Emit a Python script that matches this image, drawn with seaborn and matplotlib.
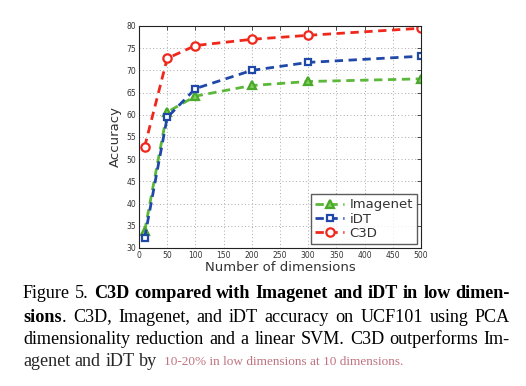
import matplotlib
matplotlib.use("Agg")
import matplotlib.pyplot as plt
import seaborn as sns
import pandas as pd

dims = [10, 50, 100, 200, 300, 500]
imagenet = [33.8, 60.6, 64.2, 66.6, 67.5, 68.1]
idt = [32.3, 59.4, 65.9, 70.0, 71.8, 73.2]
c3d = [52.8, 72.7, 75.6, 77.0, 77.9, 79.5]
series_names = ["Imagenet", "iDT", "C3D"]
x_ticks = [0, 50, 100, 150, 200, 250, 300, 350, 400, 450, 500]
y_ticks = [30, 35, 40, 45, 50, 55, 60, 65, 70, 75, 80]

df = pd.DataFrame({
    "dims": dims * 3,
    "acc": imagenet + idt + c3d,
    "series": sum([[n] * len(dims) for n in series_names], []),
})

sns.set_style("white")
plt.rcParams["font.family"] = ["DejaVu Sans"]

fig = plt.figure(figsize=(5.26, 3.86), dpi=100)
ax = fig.add_axes([139 / 526, 1 - 248 / 386, 282 / 526, 222 / 386])

styles = {
    "Imagenet": dict(color="#5cb83a", marker="^", mfc="#7fd05a", mec="#4aa82a", ms=6),
    "iDT": dict(color="#1f48a8", marker="s", mfc="#ffffff", mec="#1f48a8", ms=5),
    "C3D": dict(color="#f0281c", marker="o", mfc="#ffffff", mec="#f0281c", ms=6),
}
for name in series_names:
    st = styles[name]
    sub = df[df.series == name]
    sns.lineplot(data=sub, x="dims", y="acc", ax=ax, color=st["color"],
                 linewidth=2.0, marker=st["marker"], markersize=st["ms"],
                 markerfacecolor=st["mfc"], markeredgecolor=st["mec"],
                 markeredgewidth=1.6, label=name)
for line in ax.get_lines():
    line.set_dashes([3, 2])

ax.set_xlim(0, 500)
ax.set_ylim(30, 80)
ax.set_xticks(x_ticks)
ax.set_yticks(y_ticks)
ax.tick_params(direction="in", length=3, width=0.6, labelsize=5.5,
               top=True, right=True, colors="#333333", pad=2)
ax.grid(True, linestyle=(0, (1, 2.5)), color="#aaaaaa", linewidth=0.7)
for s in ax.spines.values():
    s.set_color("#222222")
    s.set_linewidth(0.8)
ax.set_xlabel("Number of dimensions", fontsize=9.5, color="#333333", labelpad=1)
ax.set_ylabel("Accuracy", fontsize=9.5, color="#333333", labelpad=3)

leg = ax.legend(loc="lower right", fontsize=9.5, frameon=True, fancybox=False,
                handlelength=2.2, handletextpad=0.4, borderpad=0.3,
                labelspacing=0.1, borderaxespad=0.3)
leg.get_frame().set_edgecolor("#333333")
leg.get_frame().set_linewidth(1.0)
for t in leg.get_texts():
    t.set_color("#333333")
for h in leg.get_lines():
    h.set_dashes([3, 2])

# caption, justified
cap_lines = [
    [("Figure", False), ("5.", False), ("C3D", True), ("compared", True), ("with", True),
     ("Imagenet", True), ("and", True), ("iDT", True), ("in", True), ("low", True), ("dimen-", True)],
    [("sions", True), (".", False, True), ("C3D,", False), ("Imagenet,", False), ("and", False),
     ("iDT", False), ("accuracy", False), ("on", False), ("UCF101", False), ("using", False), ("PCA", False)],
    [("dimensionality", False), ("reduction", False), ("and", False), ("a", False), ("linear", False),
     ("SVM.", False), ("C3D", False), ("outperforms", False), ("Im-", False)],
]
last_line = [("agenet", False), ("and", False), ("iDT", False), ("by", False)]
tail_text = "10-20% in low dimensions at 10 dimensions."
cap_x0, cap_x1 = 23, 510
cap_ys = [293, 317, 339, 362]
fs = 13.1
fig.canvas.draw()
r = fig.canvas.get_renderer()

def width_of(t):
    bb = t.get_window_extent(renderer=r)
    return bb.width

for li, words in enumerate(cap_lines):
    y = 1 - cap_ys[li] / 386
    texts = []
    for w in words:
        txt, bold = w[0], w[1]
        t = fig.text(0, y, txt, fontsize=fs, family="Liberation Serif",
                     weight="bold" if bold else "normal", va="center", color="black")
        texts.append((t, len(w) > 2))
    widths = [width_of(t) for t, _ in texts]
    n_gaps = sum(1 for i in range(1, len(texts)) if not texts[i][1])
    gap = (cap_x1 - cap_x0 - sum(widths)) / max(n_gaps, 1)
    x = cap_x0
    for i, (t, attach) in enumerate(texts):
        if i > 0 and not attach:
            x += gap
        t.set_x(x / 526)
        x += widths[i]

y = 1 - cap_ys[3] / 386
x = cap_x0
space = 4.5
for txt, bold in last_line:
    t = fig.text(x / 526, y, txt, fontsize=fs, family="Liberation Serif", va="center")
    x += width_of(t) + space
t = fig.text(x / 526 + 0.005, y, tail_text, fontsize=9.5, family="Liberation Serif",
             va="center", color="#b05060", alpha=0.8)

fig.savefig("out.png", dpi=100, facecolor="white")
